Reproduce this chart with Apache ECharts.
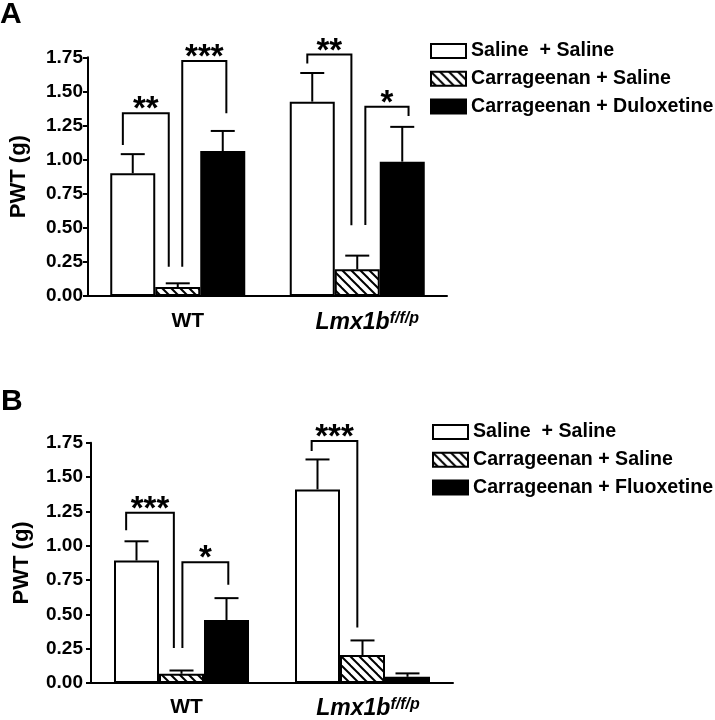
<!DOCTYPE html>
<html>
<head>
<meta charset="utf-8">
<script src="https://cdn.jsdelivr.net/npm/echarts@6/dist/echarts.min.js"></script>
<style>
html,body{margin:0;padding:0;background:#fff;}
#c{width:715px;height:720px;}
</style>
</head>
<body>
<div id="c"></div>
<script>
// ---------- data ----------
const categories = ['WT', 'Lmx1b'];
const namesA = ['Saline  + Saline', 'Carrageenan + Saline', 'Carrageenan + Duloxetine'];
const namesB = ['Saline  + Saline', 'Carrageenan + Saline', 'Carrageenan + Fluoxetine'];
const yTicks = [0, 0.25, 0.5, 0.75, 1.0, 1.25, 1.5, 1.75];

// Panel A means / SEM  (order: WT, Lmx1b)
const aSaline = [0.90, 1.425];
const aCarSaline = [0.066, 0.196];
const aCarDulox = [1.063, 0.985];
const aSalineErr = [0.14, 0.21];
const aCarSalineErr = [0.027, 0.10];
const aCarDuloxErr = [0.147, 0.255];

// Panel B means / SEM
const bSaline = [0.892, 1.41];
const bCarSaline = [0.067, 0.204];
const bCarFluox = [0.459, 0.045];
const bSalineErr = [0.14, 0.218];
const bCarSalineErr = [0.024, 0.106];
const bCarFluoxErr = [0.159, 0.025];

// significance brackets: [category, leftBarSlot, rightBarSlot, top, leftBottom, rightBottom]
const bracketsA = [
  [0, -0.22, 0.80, 1.34, 1.107, 0.215],
  [0, 1.10, 2.08, 1.723, 0.215, 1.34],
  [1, -0.11, 0.87, 1.77, 1.705, 0.518],
  [1, 1.18, 2.14, 1.388, 0.52, 1.32]
];
const starsA = ['**', '***', '**', '*'];
const bracketsB = [
  [0, -0.23, 0.83, 1.24, 1.113, 0.255],
  [0, 1.02, 2.04, 0.88, 0.255, 0.716],
  [1, -0.13, 0.885, 1.763, 1.69, 0.404]
];
const starsB = ['***', '*', '***'];

// ---------- styling helpers ----------
const FONT = '"Liberation Sans", Arial, sans-serif';
const BAR_W = 45;

function hatch() {
  const s = 9;
  const cv = document.createElement('canvas');
  cv.width = s; cv.height = s;
  const ctx = cv.getContext('2d');
  ctx.fillStyle = '#fff'; ctx.fillRect(0, 0, s, s);
  ctx.strokeStyle = '#000'; ctx.lineWidth = 2;
  [-s, 0, s].forEach(function (c) {
    ctx.beginPath(); ctx.moveTo(-1, -1 + c); ctx.lineTo(s + 1, s + 1 + c); ctx.stroke();
  });
  return cv;
}
const hatchPattern = { image: hatch(), repeat: 'repeat' };

const barStyles = [
  { color: '#fff', borderColor: '#000', borderWidth: 2 },
  { color: hatchPattern, borderColor: '#000', borderWidth: 2 },
  { color: '#000', borderColor: '#000', borderWidth: 2 }
];

function errRender(slot) {
  return function (params, api) {
    const c = api.value(0), v = api.value(1), t = api.value(2);
    const p0 = api.coord([c, v]);
    const p1 = api.coord([c, t]);
    const x = p0[0] + (slot - 1) * BAR_W;
    return {
      type: 'group',
      children: [
        { type: 'line', shape: { x1: x, y1: p0[1], x2: x, y2: p1[1] }, style: { stroke: '#000', lineWidth: 2 } },
        { type: 'line', shape: { x1: x - 12, y1: p1[1], x2: x + 12, y2: p1[1] }, style: { stroke: '#000', lineWidth: 2 } }
      ]
    };
  };
}

function bracketRender(stars) {
  return function (params, api) {
    const c = api.value(0);
    const xl = api.coord([c, 0])[0] + (api.value(1) - 1) * BAR_W;
    const xr = api.coord([c, 0])[0] + (api.value(2) - 1) * BAR_W;
    const yt = api.coord([c, api.value(3)])[1];
    const yl = api.coord([c, api.value(4)])[1];
    const yr = api.coord([c, api.value(5)])[1];
    return {
      type: 'group',
      children: [
        { type: 'polyline', shape: { points: [[xl, yl], [xl, yt], [xr, yt], [xr, yr]] }, style: { stroke: '#000', lineWidth: 2, fill: null } },
        { type: 'text', style: { text: stars[params.dataIndex], x: (xl + xr) / 2, y: yt - 3, align: 'center', verticalAlign: 'middle', font: 'bold 33px ' + FONT, fill: '#000' } }
      ]
    };
  };
}

function panelSeries(idx, names, means, errs, brackets, stars) {
  const out = [];
  names.forEach(function (n, k) {
    out.push({
      type: 'bar', name: n, xAxisIndex: idx, yAxisIndex: idx,
      data: means[k], barWidth: BAR_W, barGap: '0%',
      itemStyle: barStyles[k], z: 2
    });
  });
  names.forEach(function (n, k) {
    out.push({
      type: 'custom', xAxisIndex: idx, yAxisIndex: idx, z: 4,
      renderItem: errRender(k),
      data: means[k].map(function (m, i) { return [i, m, m + errs[k][i]]; })
    });
  });
  out.push({
    type: 'custom', xAxisIndex: idx, yAxisIndex: idx, z: 5,
    renderItem: bracketRender(stars),
    data: brackets
  });
  return out;
}

function xAxisCfg(idx, shiftWT, shiftL, margin) {
  return {
    type: 'category', gridIndex: idx, data: categories,
    axisLine: { show: true, lineStyle: { color: '#000', width: 2 } },
    axisTick: { show: false },
    axisLabel: {
      margin: margin,
      formatter: function (v) { return v === 'WT' ? '{w|WT}' : '{m|Lmx1b}{s|f/f/p}'; },
      rich: {
        w: { fontSize: 21, fontWeight: 'bold', fontFamily: FONT, color: '#000', padding: [0, 0, 0, shiftWT] },
        m: { fontSize: 23, fontWeight: 'bold', fontStyle: 'italic', fontFamily: FONT, color: '#000', padding: [0, 0, 0, shiftL] },
        s: { fontSize: 16, fontWeight: 'bold', fontStyle: 'italic', fontFamily: FONT, color: '#000', verticalAlign: 'top' }
      }
    }
  };
}

function yAxisCfg(idx, margin) {
  return {
    type: 'value', gridIndex: idx, min: yTicks[0], max: yTicks[yTicks.length - 1], interval: 0.25,
    name: 'PWT (g)', nameLocation: 'middle', nameGap: 58, nameRotate: 90,
    nameTextStyle: { fontSize: 22, fontWeight: 'bold', fontFamily: FONT, color: '#000' },
    axisLine: { show: true, lineStyle: { color: '#000', width: 2 } },
    axisTick: { show: true, length: 5, lineStyle: { color: '#000', width: 2 } },
    splitLine: { show: false },
    axisLabel: { margin: margin, fontSize: 19, fontWeight: 'bold', fontFamily: FONT, color: '#000',
      formatter: function (v) { return v.toFixed(2); } }
  };
}

function legendCfg(names, left, top) {
  return {
    data: names, orient: 'vertical', left: left, top: top, padding: 0,
    itemWidth: 35, itemHeight: 14, itemGap: 7.7, icon: 'rect', selectedMode: false,
    textStyle: { fontSize: 19.6, fontWeight: 'bold', fontFamily: FONT, color: '#000', lineHeight: 20 }
  };
}

const chart = echarts.init(document.getElementById('c'), null, { renderer: 'canvas' });
chart.setOption({
  animation: false,
  backgroundColor: '#fff',
  title: [
    { text: 'A', left: 0, top: 0, padding: 0, textStyle: { fontSize: 30, fontWeight: 'bold', fontFamily: FONT, color: '#000' } },
    { text: 'B', left: 1, top: 387, padding: 0, textStyle: { fontSize: 30, fontWeight: 'bold', fontFamily: FONT, color: '#000' } }
  ],
  legend: [legendCfg(namesA, 430, 41), legendCfg(namesB, 432, 422)],
  grid: [
    { left: 82, top: 57.3, width: 365, height: 238.7 },
    { left: 91, top: 442.7, width: 362, height: 242.6 }
  ],
  xAxis: [xAxisCfg(0, 20, 20, 15), xAxisCfg(1, 10, 11, 14)],
  yAxis: [yAxisCfg(0, 5), yAxisCfg(1, 8)],
  series: [].concat(
    panelSeries(0, namesA, [aSaline, aCarSaline, aCarDulox], [aSalineErr, aCarSalineErr, aCarDuloxErr], bracketsA, starsA),
    panelSeries(1, namesB, [bSaline, bCarSaline, bCarFluox], [bSalineErr, bCarSalineErr, bCarFluoxErr], bracketsB, starsB)
  )
});
</script>
</body>
</html>
